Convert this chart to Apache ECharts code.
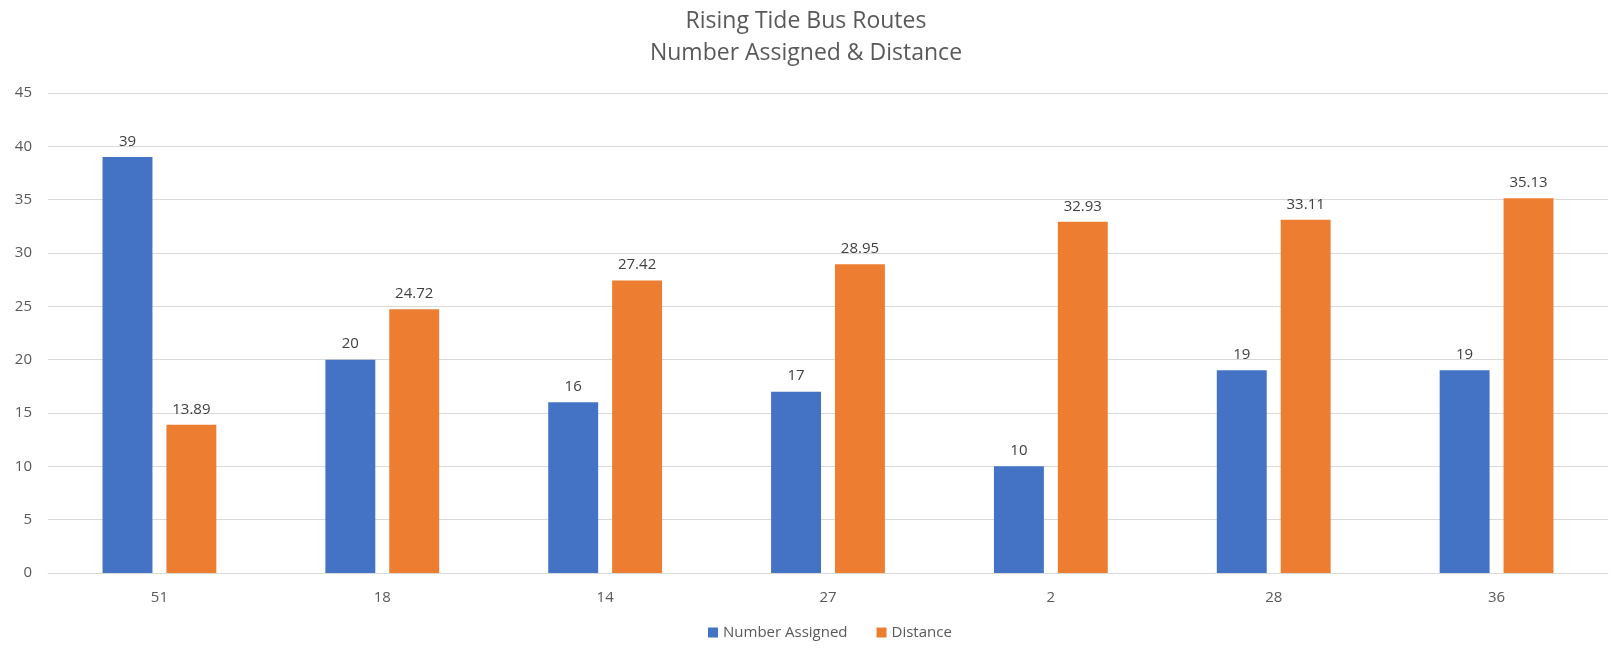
<!DOCTYPE html>
<html><head><meta charset="utf-8">
<script src="https://cdn.jsdelivr.net/npm/echarts@6/dist/echarts.min.js"></script>
<style>html,body{margin:0;padding:0;background:#fff}#c{width:1612px;height:648px}</style>
</head><body><div id="c"></div>
<script>
const categories = ['51','18','14','27','2','28','36'];
const numberAssigned = [39,20,16,17,10,19,19];
const distance = [13.89,24.72,27.42,28.95,32.93,33.11,35.13];
const yTicks = {min:0,max:45,interval:5};
const FONT = 'Open Sans';
const chart = echarts.init(document.getElementById('c'));
chart.setOption({
  animation:false,
  textStyle:{fontFamily:FONT},
  title:{text:'Rising Tide Bus Routes\nNumber Assigned & Distance',left:'center',top:0,
    textStyle:{fontFamily:FONT,fontSize:23,fontWeight:'normal',color:'#595959',lineHeight:32}},
  legend:{bottom:3,left:703,itemWidth:10,itemHeight:10,itemGap:29,icon:'rect',
    textStyle:{fontFamily:FONT,fontSize:15,color:'#595959'},
    data:['Number Assigned','Distance']},
  grid:{left:48,right:4,top:93,bottom:75,containLabel:false},
  xAxis:{type:'category',data:categories,
    axisLine:{lineStyle:{color:'#d9d9d9',width:1}},axisTick:{show:false},
    axisLabel:{color:'#595959',fontSize:15,margin:17,fontFamily:FONT}},
  yAxis:{type:'value',min:yTicks.min,max:yTicks.max,interval:yTicks.interval,
    axisLine:{show:false},axisTick:{show:false},
    splitLine:{lineStyle:{color:'#d9d9d9',width:1}},
    axisLabel:{color:'#595959',fontSize:15,margin:16,fontFamily:FONT}},
  series:[
    {name:'Number Assigned',type:'bar',data:numberAssigned,barWidth:'22.4%',barGap:'28%',
     itemStyle:{color:'#4472c4'},
     label:{show:true,position:'top',distance:8,color:'#404040',fontSize:15,fontFamily:FONT}},
    {name:'Distance',type:'bar',data:distance,barWidth:'22.4%',
     itemStyle:{color:'#ed7d31'},
     label:{show:true,position:'top',distance:8,color:'#404040',fontSize:15,fontFamily:FONT}}
  ]
});
</script></body></html>
